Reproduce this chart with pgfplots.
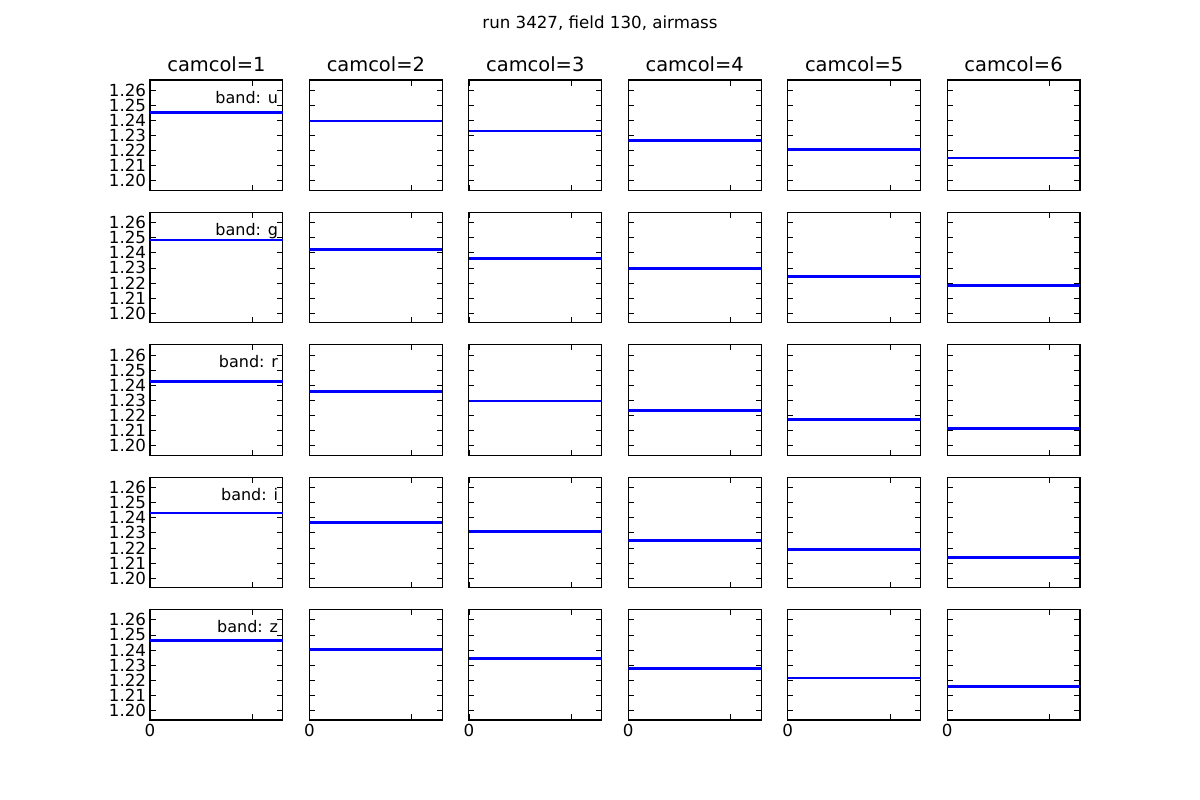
\documentclass[border=0pt]{standalone}
\usepackage{fontspec}
\setmainfont{DejaVu Sans}
\usepackage{pgfplots}
\pgfplotsset{compat=1.18}
\usepgfplotslibrary{groupplots}
\pgfplotsset{ln/.style={blue, line width=2.5pt, no marks}}
\newcommand{\bandlabel}[1]{\node[anchor=base east, inner sep=0pt, font=\fontsize{14.4}{14.4}\selectfont] at (rel axis cs:0.965,0.79) {#1};}
\begin{document}
\begin{tikzpicture}
\path[use as bounding box] (0,0) rectangle (1080pt,720pt);
\node[anchor=north, inner sep=0pt, font=\fontsize{15}{15}\selectfont] at (540pt,705.6pt) {run 3427, field 130, airmass};
\begin{groupplot}[
  group style={group size=6 by 5, horizontal sep=23.91pt, vertical sep=19.86pt,
    xticklabels at=edge bottom, yticklabels at=edge left},
  scale only axis, width=119.57pt, height=99.31pt,
  xmin=0, xmax=1.3, ymin=1.1937, ymax=1.2667,
  xtick={0,1}, xticklabels={0,},
  ytick={1.20,1.21,1.22,1.23,1.24,1.25,1.26},
  tick pos=both, tick align=inside, major tick length=5pt,
  tick style={black, line width=0.6pt},
  axis line style={line width=1.1pt},
  /pgf/number format/assume math mode=true,
  yticklabel style={/pgf/number format/fixed, /pgf/number format/fixed zerofill, /pgf/number format/precision=2},
  ticklabel style={font=\fontsize{15}{15}\selectfont},
  title style={font=\fontsize{17.5}{17.5}\selectfont, yshift=-2pt},
]
% row u
\nextgroupplot[title={camcol=1}, anchor=north west, at={(135pt,648pt)}]
\addplot[ln] coordinates {(0,1.2452) (1.3,1.2452)};
\bandlabel{band: u}
\nextgroupplot[title={camcol=2}]
\addplot[ln] coordinates {(0,1.2396) (1.3,1.2396)};
\nextgroupplot[title={camcol=3}]
\addplot[ln] coordinates {(0,1.2329) (1.3,1.2329)};
\nextgroupplot[title={camcol=4}]
\addplot[ln] coordinates {(0,1.2269) (1.3,1.2269)};
\nextgroupplot[title={camcol=5}]
\addplot[ln] coordinates {(0,1.2208) (1.3,1.2208)};
\nextgroupplot[title={camcol=6}]
\addplot[ln] coordinates {(0,1.2151) (1.3,1.2151)};
% row g
\nextgroupplot
\addplot[ln] coordinates {(0,1.2484) (1.3,1.2484)};
\bandlabel{band: g}
\nextgroupplot
\addplot[ln] coordinates {(0,1.2423) (1.3,1.2423)};
\nextgroupplot
\addplot[ln] coordinates {(0,1.2363) (1.3,1.2363)};
\nextgroupplot
\addplot[ln] coordinates {(0,1.2296) (1.3,1.2296)};
\nextgroupplot
\addplot[ln] coordinates {(0,1.2242) (1.3,1.2242)};
\nextgroupplot
\addplot[ln] coordinates {(0,1.2181) (1.3,1.2181)};
% row r
\nextgroupplot
\addplot[ln] coordinates {(0,1.2423) (1.3,1.2423)};
\bandlabel{band: r}
\nextgroupplot
\addplot[ln] coordinates {(0,1.2356) (1.3,1.2356)};
\nextgroupplot
\addplot[ln] coordinates {(0,1.2296) (1.3,1.2296)};
\nextgroupplot
\addplot[ln] coordinates {(0,1.2235) (1.3,1.2235)};
\nextgroupplot
\addplot[ln] coordinates {(0,1.2175) (1.3,1.2175)};
\nextgroupplot
\addplot[ln] coordinates {(0,1.2114) (1.3,1.2114)};
% row i
\nextgroupplot
\addplot[ln] coordinates {(0,1.2430) (1.3,1.2430)};
\bandlabel{band: i}
\nextgroupplot
\addplot[ln] coordinates {(0,1.2369) (1.3,1.2369)};
\nextgroupplot
\addplot[ln] coordinates {(0,1.2309) (1.3,1.2309)};
\nextgroupplot
\addplot[ln] coordinates {(0,1.2249) (1.3,1.2249)};
\nextgroupplot
\addplot[ln] coordinates {(0,1.2188) (1.3,1.2188)};
\nextgroupplot
\addplot[ln] coordinates {(0,1.2134) (1.3,1.2134)};
% row z
\nextgroupplot
\addplot[ln] coordinates {(0,1.2463) (1.3,1.2463)};
\bandlabel{band: z}
\nextgroupplot
\addplot[ln] coordinates {(0,1.2401) (1.3,1.2401)};
\nextgroupplot
\addplot[ln] coordinates {(0,1.2343) (1.3,1.2343)};
\nextgroupplot
\addplot[ln] coordinates {(0,1.2280) (1.3,1.2280)};
\nextgroupplot
\addplot[ln] coordinates {(0,1.2215) (1.3,1.2215)};
\nextgroupplot
\addplot[ln] coordinates {(0,1.2161) (1.3,1.2161)};
\end{groupplot}
\end{tikzpicture}
\end{document}
